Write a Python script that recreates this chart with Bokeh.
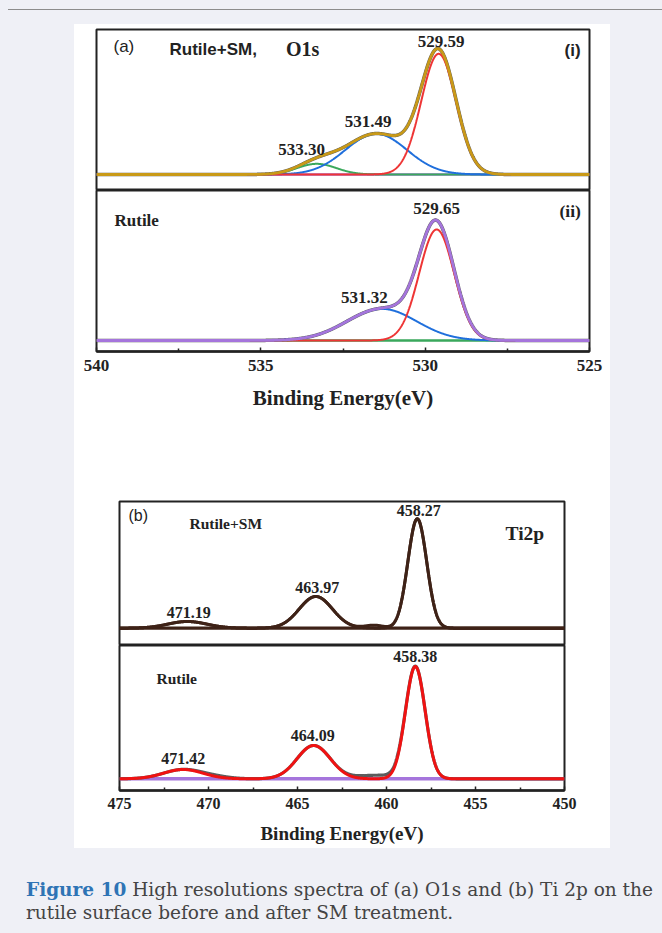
import numpy as np
from bokeh.plotting import figure
from bokeh.layouts import column, row
from bokeh.models import (ColumnDataSource, Range1d, FixedTicker, Label, Div, Spacer,
                          GlobalInlineStyleSheet)
from bokeh.core.properties import value
from bokeh.embed import file_html
from bokeh.resources import INLINE

# ---------------- data ----------------
# (a)(i) O1s, Rutile+SM : fitted components (position eV, height a.u., FWHM eV)
o1s_sm_centers = [529.59, 531.49, 533.30]
o1s_sm_heights = [3620, 1220, 320]
o1s_sm_fwhm = [1.25, 2.2, 1.4]
o1s_sm_labels = ["529.59", "531.49", "533.30"]

# (a)(ii) O1s, Rutile
o1s_ru_centers = [529.65, 531.32]
o1s_ru_heights = [3330, 950]
o1s_ru_fwhm = [1.25, 2.5]
o1s_ru_labels = ["529.65", "531.32"]

# (b) Ti2p, Rutile+SM
ti_sm_centers = [458.27, 463.97, 471.19]
ti_sm_heights = [1094, 317, 67]
ti_sm_fwhm = [1.25, 2.2, 2.6]
ti_sm_labels = ["458.27", "463.97", "471.19"]
ti_sm_raw_extra_centers = [460.7]
ti_sm_raw_extra_heights = [30]
ti_sm_raw_extra_fwhm = [1.2]

# (b) Ti2p, Rutile
ti_ru_centers = [458.38, 464.09, 471.42]
ti_ru_heights = [1123, 333, 93]
ti_ru_fwhm = [1.3, 2.2, 2.6]
ti_ru_labels = ["458.38", "464.09", "471.42"]
ti_ru_raw_extra_centers = [460.6, 469.6]
ti_ru_raw_extra_heights = [35, 15]
ti_ru_raw_extra_fwhm = [2.4, 2.0]

o1s_ticks = [540, 535, 530, 525]
o1s_minor = [537.5, 532.5, 527.5]
ti_ticks = [475, 470, 465, 460, 455, 450]
ti_minor = [472.5, 467.5, 462.5, 457.5, 452.5]

# ---------------- helpers ----------------
SERIF = "Liberation Serif"
SANS = "Liberation Sans"
INK = "#222222"
RED, BLUE, GREEN, PURPLE, GOLD, GRAY = "#ee3535", "#1f6fdc", "#3aa85c", "#a575dc", "#c99a18", "#5c5c5c"
BROWN, TIRED = "#3e2217", "#f01212"
GEOM = {}


def peak(x, c, h, w):
    return h * np.exp(-4 * np.log(2) * (x - c) ** 2 / w ** 2)


def total(x, cs, hs, ws):
    return sum(peak(x, c, h, w) for c, h, w in zip(cs, hs, ws))


def make_fig(name, xr, yr, fl, ft, fw, fh, bl, bt, br, bb, axis):
    p = figure(x_range=xr, y_range=yr, frame_width=fw, frame_height=fh,
               min_border_left=bl, min_border_top=bt, min_border_right=br,
               min_border_bottom=bb, x_axis_location="below" if axis else None,
               y_axis_location=None, toolbar_location=None, output_backend="svg")
    p.background_fill_color = "white"
    p.border_fill_color = "white"
    p.outline_line_color = INK
    p.outline_line_width = 2
    p.grid.visible = False
    GEOM[name] = (fl, ft, fw, fh)
    return p


def label_at(p, name, px, py, text, font, size, bold, align="left"):
    fl, ft, fw, fh = GEOM[name]
    x0, x1 = p.x_range.start, p.x_range.end
    y0, y1 = p.y_range.start, p.y_range.end
    x = x0 + (px - fl) / fw * (x1 - x0)
    y = y1 - (py - ft) / fh * (y1 - y0)
    p.add_layout(Label(x=x, y=y, text=text, text_font=font, text_font_size=size,
                       text_font_style="bold" if bold else "normal", text_color=INK,
                       text_align=align, text_baseline="middle"))


def peak_labels(p, xs, ys, labels, xoff, yoff, size):
    src = ColumnDataSource(dict(x=xs, y=ys, t=labels, xo=xoff, yo=yoff))
    p.text(x="x", y="y", text="t", x_offset="xo", y_offset="yo", source=src,
           text_font=value(SERIF), text_font_style="bold", text_font_size=size,
           text_color=INK, text_align="center", text_baseline="middle")


def style_axis(p, ticks, minor, label_size, title_size, standoff, title_standoff):
    ax = p.xaxis[0]
    ax.ticker = FixedTicker(ticks=ticks, minor_ticks=minor)
    ax.axis_line_color = INK
    ax.axis_line_width = 2.5
    ax.major_tick_in = 4
    ax.major_tick_out = 0
    ax.minor_tick_in = 3
    ax.minor_tick_out = 0
    ax.major_tick_line_color = INK
    ax.minor_tick_line_color = INK
    ax.major_tick_line_width = 1.5
    ax.minor_tick_line_width = 1.5
    ax.major_label_text_font = SERIF
    ax.major_label_text_font_style = "bold"
    ax.major_label_text_font_size = label_size
    ax.major_label_text_color = INK
    ax.major_label_standoff = standoff
    ax.axis_label = "Binding Energy(eV)"
    ax.axis_label_text_font = SERIF
    ax.axis_label_text_font_style = "bold"
    ax.axis_label_text_font_size = title_size
    ax.axis_label_text_color = INK
    ax.axis_label_standoff = title_standoff


# ---------------- (a) O1s ----------------
xa = Range1d(540, 525)
ea = np.linspace(540, 525, 1501)

p_ai = make_fig("ai", xa, Range1d(-480, 4350), 96, 29, 493, 161, 22, 5, 21, 0, False)
comp_colors_i = [RED, BLUE, GREEN]
env_i = total(ea, o1s_sm_centers, o1s_sm_heights, o1s_sm_fwhm)
p_ai.line(ea, env_i, line_color=GRAY, line_width=3.5)
p_ai.line(ea, np.zeros_like(ea), line_color=PURPLE, line_width=2.5)
for c, h, w, col in reversed(list(zip(o1s_sm_centers, o1s_sm_heights, o1s_sm_fwhm, comp_colors_i))):
    p_ai.line(ea, peak(ea, c, h, w), line_color=col, line_width=2)
p_ai.line(ea, env_i, line_color=GOLD, line_width=2.8)
peak_labels(p_ai, o1s_sm_centers,
            [float(total(np.array(c), o1s_sm_centers, o1s_sm_heights, o1s_sm_fwhm)) for c in o1s_sm_centers],
            o1s_sm_labels, [2.5, -8, -15], [-7, -12.5, -8.5], "17px")
label_at(p_ai, "ai", 113, 45.5, "(a)", SANS, "17px", False)
label_at(p_ai, "ai", 169, 48.5, "Rutile+SM,", SANS, "17px", True)
label_at(p_ai, "ai", 285.5, 48.5, "O1s", SERIF, "20px", True)
label_at(p_ai, "ai", 564, 50, "(i)", SANS, "17px", True)

p_aii = make_fig("aii", xa, Range1d(-330, 4500), 96, 190, 493, 161, 22, 0, 21, 89, True)
env_ii = total(ea, o1s_ru_centers, o1s_ru_heights, o1s_ru_fwhm)
p_aii.line(ea, env_ii, line_color=GRAY, line_width=3.5)
p_aii.line(ea, np.zeros_like(ea), line_color=GREEN, line_width=2.5)
for c, h, w, col in reversed(list(zip(o1s_ru_centers, o1s_ru_heights, o1s_ru_fwhm, [RED, BLUE]))):
    p_aii.line(ea, peak(ea, c, h, w), line_color=col, line_width=2)
p_aii.line(ea, env_ii, line_color=PURPLE, line_width=2.8)
peak_labels(p_aii, o1s_ru_centers,
            [float(total(np.array(c), o1s_ru_centers, o1s_ru_heights, o1s_ru_fwhm)) for c in o1s_ru_centers],
            o1s_ru_labels, [0, -17.5], [-11.5, -11], "17px")
label_at(p_aii, "aii", 114, 220, "Rutile", SERIF, "17px", True)
label_at(p_aii, "aii", 559, 210, "(ii)", SERIF, "17.5px", True)
style_axis(p_aii, o1s_ticks, o1s_minor, "17px", "21px", 8, 12)

# ---------------- (b) Ti2p ----------------
xb = Range1d(475, 450)
eb = np.linspace(475, 450, 2501)

p_bt = make_fig("bt", xb, Range1d(-173, 1267), 119, 501, 445, 144, 22, 61, 46, 0, False)
fit_bt = total(eb, ti_sm_centers, ti_sm_heights, ti_sm_fwhm)
raw_bt = fit_bt + total(eb, ti_sm_raw_extra_centers, ti_sm_raw_extra_heights, ti_sm_raw_extra_fwhm)
p_bt.line(eb, np.zeros_like(eb), line_color=BROWN, line_width=3.2)
p_bt.line(eb, raw_bt, line_color=BROWN, line_width=3)
p_bt.line(eb, fit_bt, line_color=BROWN, line_width=3)
peak_labels(p_bt, ti_sm_centers,
            [float(total(np.array(c), ti_sm_centers, ti_sm_heights, ti_sm_fwhm)) for c in ti_sm_centers],
            ti_sm_labels, [1.5, 1.5, 1.5], [-8.5, -9.5, -9.5], "16px")
label_at(p_bt, "bt", 128, 515, "(b)", SANS, "16px", False)
label_at(p_bt, "bt", 189, 522.5, "Rutile+SM", SERIF, "15.5px", True)
label_at(p_bt, "bt", 505, 532.5, "Ti2p", SERIF, "19.5px", True)

p_bb = make_fig("bb", xb, Range1d(-117, 1333), 119, 645, 445, 145, 22, 0, 46, 58, True)
fit_bb = total(eb, ti_ru_centers, ti_ru_heights, ti_ru_fwhm)
raw_bb = fit_bb + total(eb, ti_ru_raw_extra_centers, ti_ru_raw_extra_heights, ti_ru_raw_extra_fwhm)
p_bb.line(eb, np.zeros_like(eb), line_color=PURPLE, line_width=3.5)
p_bb.line(eb, raw_bb, line_color=GRAY, line_width=3.2)
p_bb.line(eb, fit_bb, line_color=TIRED, line_width=3)
peak_labels(p_bb, ti_ru_centers,
            [float(total(np.array(c), ti_ru_centers, ti_ru_heights, ti_ru_fwhm)) for c in ti_ru_centers],
            ti_ru_labels, [0, -1, 0], [-10, -10, -11.5], "16px")
label_at(p_bb, "bb", 156, 677.5, "Rutile", SERIF, "15.5px", True)
style_axis(p_bb, ti_ticks, ti_minor, "16px", "19px", 7, 11)

# ---------------- page ----------------
panel_a = column(p_ai, p_aii, spacing=0)
panel_b = row(Spacer(width=23, height=10), column(p_bt, p_bb, spacing=0), spacing=0,
              styles={"background-color": "white"})
white_col = column(panel_a, panel_b, spacing=0, styles={"background-color": "white"})
caption = Div(width=646, height=69, text=(
    '<div style="font-family:\'DejaVu Serif\',serif;font-size:18.5px;'
    'line-height:23px;color:#444;padding:25px 0 0 13px;white-space:nowrap;">'
    '<span style="color:#2e74b5;font-weight:bold;">Figure 10</span> High resolutions spectra '
    'of (a) O1s and (b) Ti 2p on the<br>rutile surface before and after SM treatment.</div>'))

css = ("body{background:#eff0f6;margin:8px;}"
       "body::before{content:'';position:absolute;left:8px;right:0;top:9px;"
       "border-top:1px solid #8c8c8c;}")
p = column(Spacer(width=646, height=16),
           row(Spacer(width=66, height=10), white_col, spacing=0),
           caption, spacing=0, stylesheets=[GlobalInlineStyleSheet(css=css)])

open("out.html", "w").write(file_html(p, INLINE))
